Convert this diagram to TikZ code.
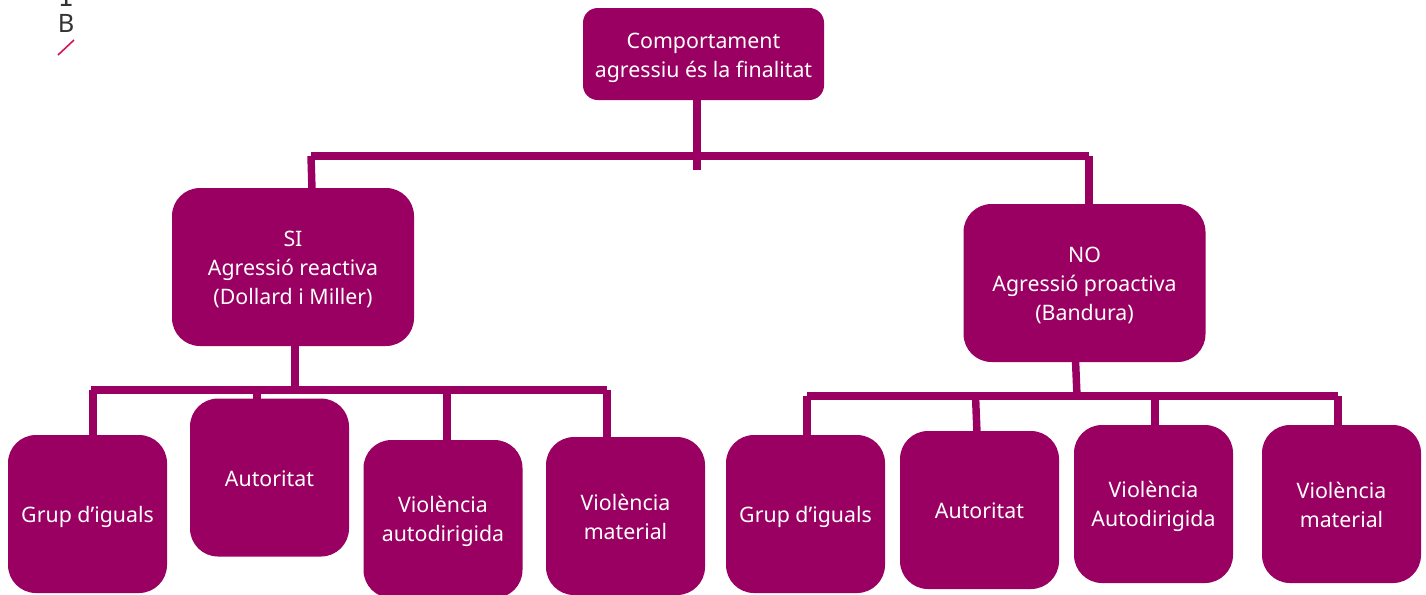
\documentclass[tikz,border=0pt]{standalone}
\usepackage{fontspec}
\setmainfont{Noto Sans}
\newfontfamily\markfont{DejaVu Sans}
\definecolor{plum}{HTML}{990061}
\definecolor{slash}{HTML}{D4145A}
\newcommand{\toppad}[1]{\mbox{}\\[#1]}
\tikzset{
  box/.style={fill=plum,text=white,inner sep=0pt,align=center,rounded corners=21pt,
    minimum width=119.25pt,minimum height=118.5pt,font=\fontsize{16}{21.75}\selectfont},
  midbox/.style={box,minimum width=181.5pt},
  topbox/.style={box,minimum width=180.75pt,minimum height=69pt,rounded corners=11pt},
  link/.style={draw=plum,line width=5.6pt},
  nudge/.style={execute at begin node={\rule{0pt}{#1}}},
  logotext/.style={inner sep=0pt,text=black!80,anchor=base,font=\fontsize{19}{19}\selectfont}
}
\begin{document}
\begin{tikzpicture}[x=0.75pt,y=-0.75pt]
      \useasboundingbox (0,0) rectangle (1426,594);
      \node [logotext,font=\markfont\fontsize{19}{19}\selectfont] (one) at (66,6) {1};
      \node [logotext] (bee) at (66,32) {B};
      \coordinate (slashA) at (58,55);
      \coordinate (slashB) at (74,40);
      \draw [slash,line width=1.2pt] (slashA) -- (slashB);
      % boxes
      \node [topbox] (top) at (703.5,54) {\toppad{-4.55pt}Comportament\\agressiu és la finalitat};
      \node [midbox] (si) at (293,267) {\toppad{-6.75pt}SI\\Agressió reactiva\\(Dollard i Miller)};
      \node [midbox] (no) at (1084.5,283) {\toppad{-6.75pt}NO\\Agressió proactiva\\(Bandura)};
      \node [box,nudge=16.7pt] (sia) at (87.5,514) {Grup d’iguals};
      \node [box,nudge=13.5pt] (sib) at (269.5,477.5) {Autoritat};
      \node [box] (sic) at (443,519) {\toppad{-5.95pt}Violència\\autodirigida};
      \node [box] (sid) at (625.5,516) {\toppad{-8.25pt}Violència\\material};
      \node [box,nudge=16.7pt] (noa) at (805.5,514) {Grup d’iguals};
      \node [box,nudge=13.5pt] (nob) at (979.5,510) {Autoritat};
      \node [box] (noc) at (1153.5,504) {\toppad{-5.25pt}Violència\\Autodirigida};
      \node [box] (nod) at (1341.5,504) {\toppad{-8.25pt}Violència\\material};
      % top level
      \coordinate (stem) at (697,170);
      \coordinate (busL) at (311,156);
      \coordinate (busR) at (1089,156);
      \coordinate (stemT) at (697,100);
      \draw [link] (stemT) -- (stem);
      \draw [link] (busL) -- (busR);
      \coordinate (siT) at (312,190);
      \coordinate (noT) at (1089,206);
      \draw [link] (busL) -- (siT);
      \draw [link] (busR) -- (noT);
      % left group
      \coordinate (siS) at (295,344);
      \coordinate (siJ) at (295,390);
      \coordinate (siL) at (91,390);
      \coordinate (siR) at (607,390);
      \draw [link] (siS) -- (siJ);
      \draw [link] (siL) -- (siR);
      \foreach \name/\x/\y in {sia/93/437,sib/257/401,sic/447/442,sid/607/439}{
        \coordinate (\name up) at (\x,390);
        \coordinate (\name end) at (\x,\y);
        \draw [link] (\name up) -- (\name end);
      }
      % right group
      \coordinate (noS) at (1075.5,360);
      \coordinate (noJ) at (1077,396);
      \coordinate (noL) at (807,396);
      \coordinate (noR) at (1338,396);
      \draw [link] (noS) -- (noJ);
      \draw [link] (noL) -- (noR);
      \foreach \name/\xa/\xb/\y in {noa/807/807/437,nob/975.5/977/433,noc/1155/1155/427,nod/1338/1338/427}{
        \coordinate (\name up) at (\xa,396);
        \coordinate (\name end) at (\xb,\y);
        \draw [link] (\name up) -- (\name end);
      }
\end{tikzpicture}
\end{document}
